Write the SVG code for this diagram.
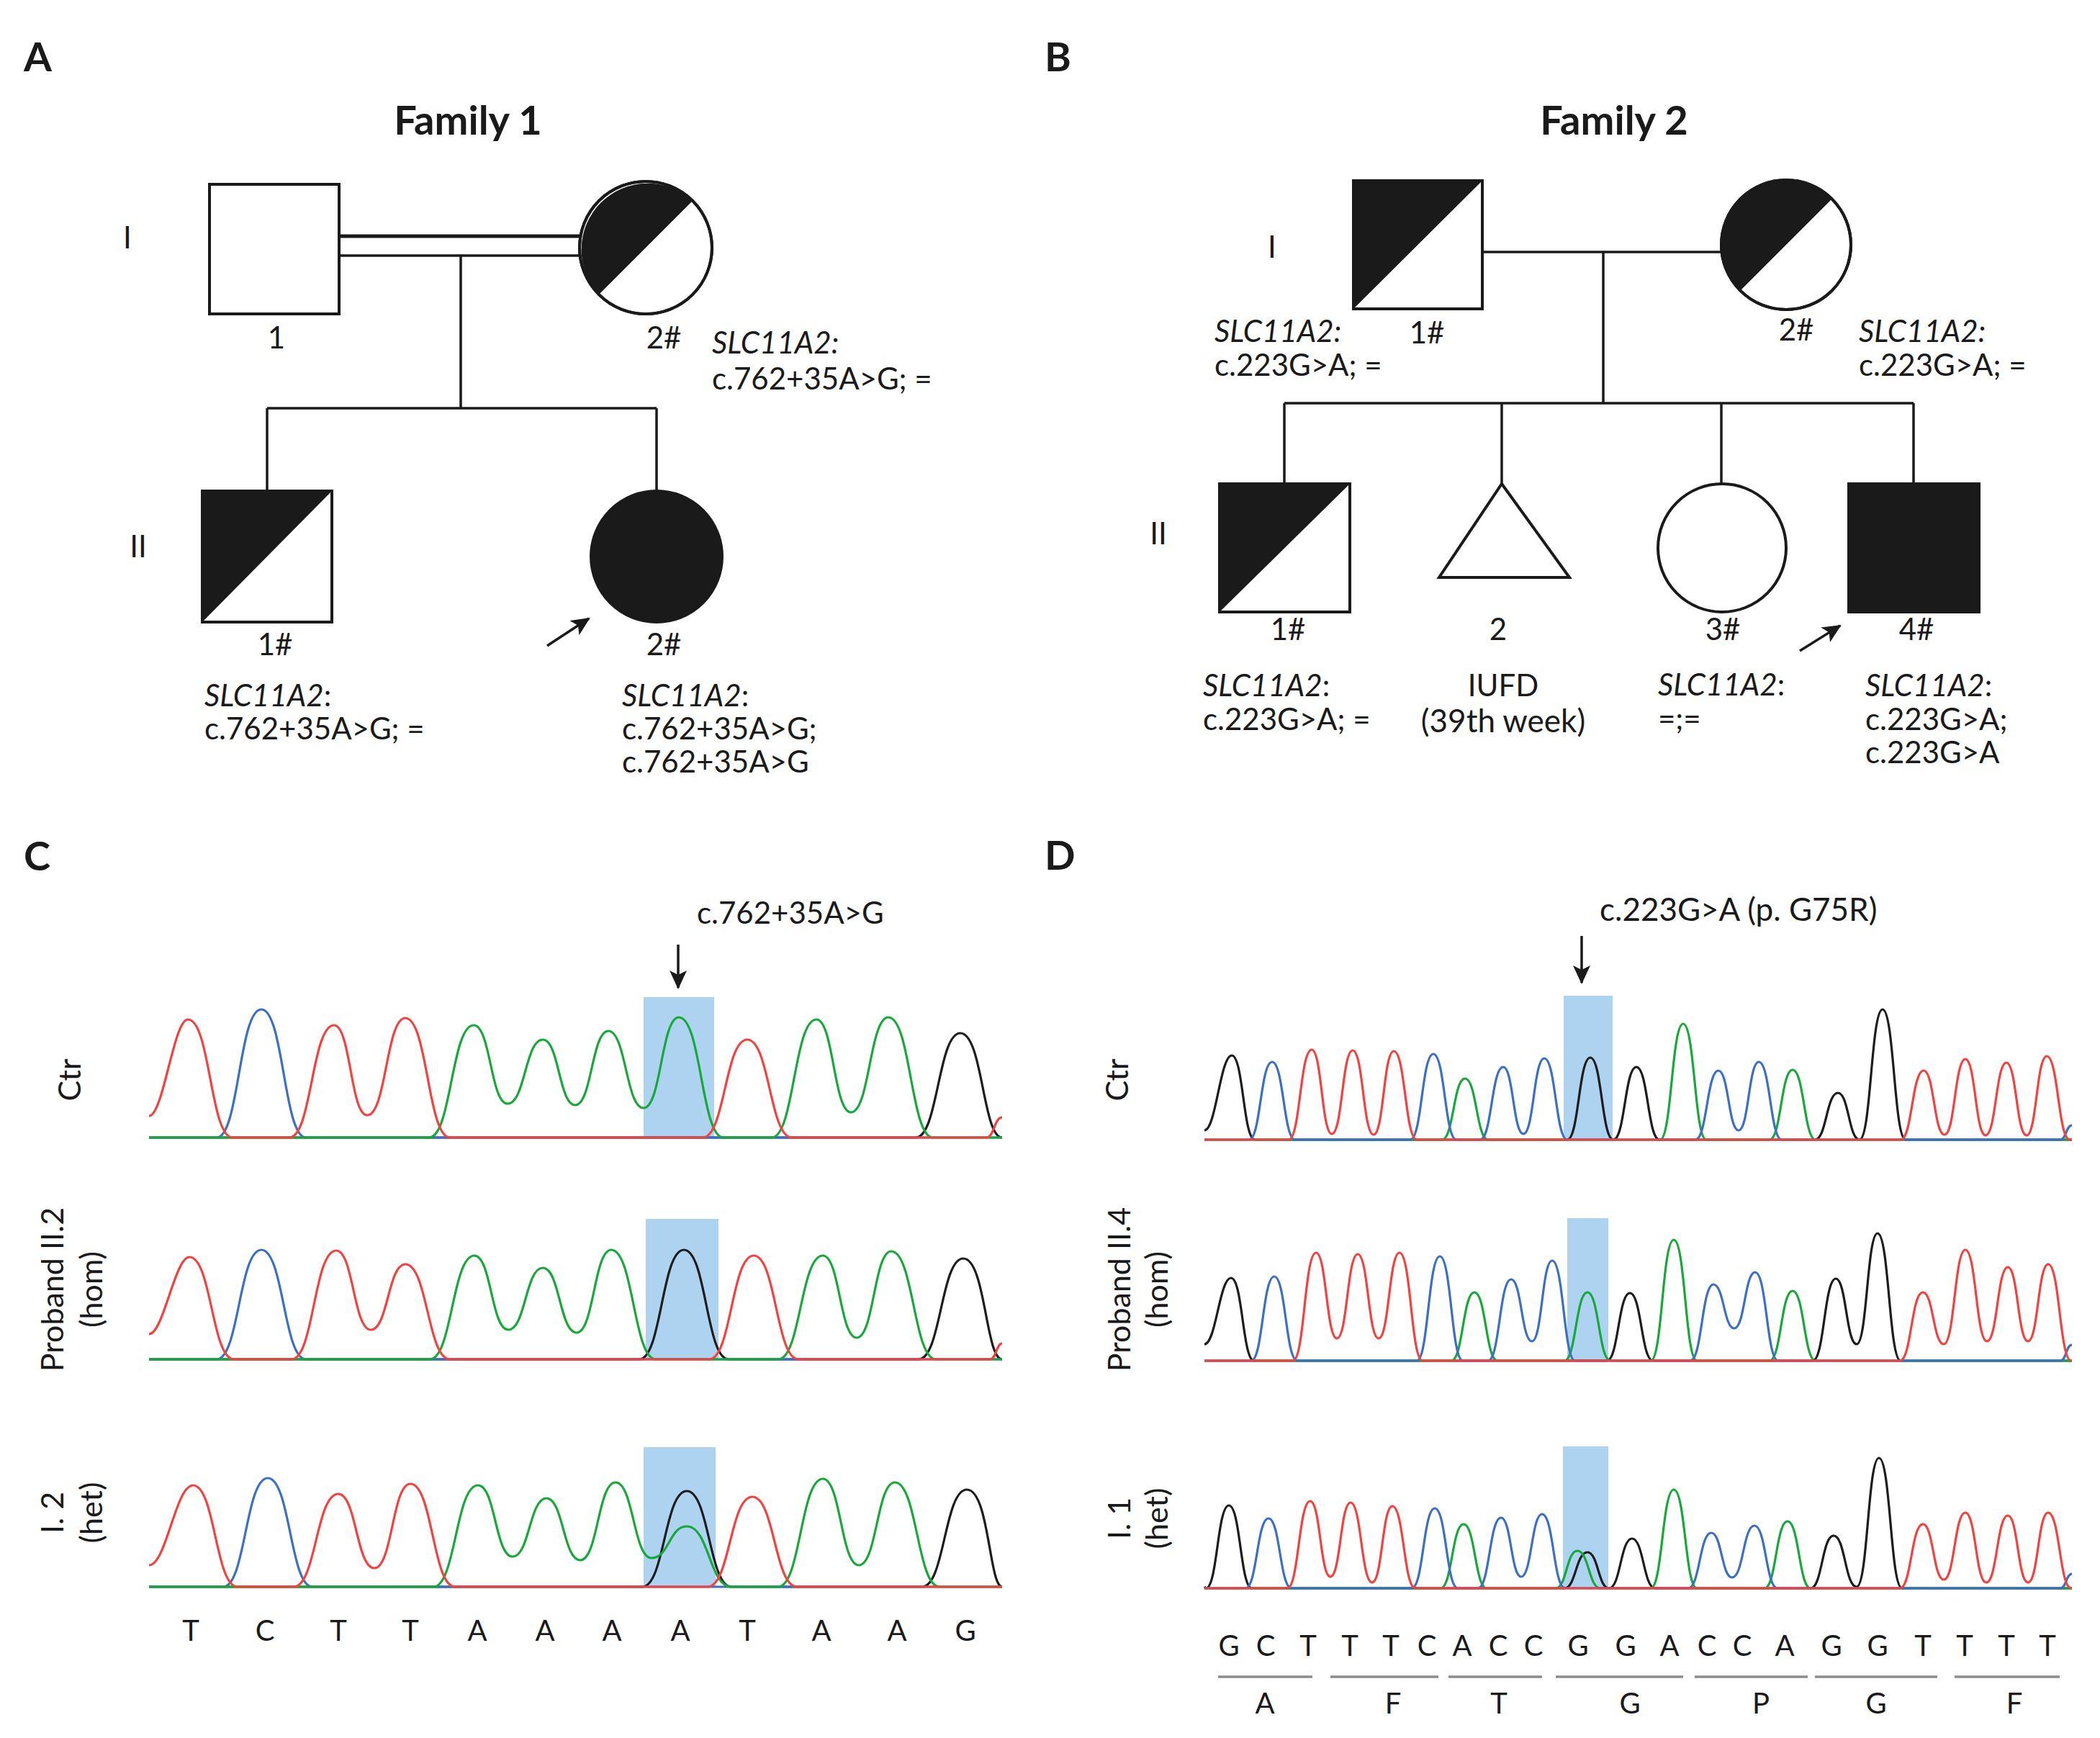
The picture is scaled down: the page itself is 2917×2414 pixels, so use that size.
<svg xmlns="http://www.w3.org/2000/svg" width="2917" height="2414" viewBox="0 0 2917 2414">
<style>
text{font-family:Lato,"Open Sans","Liberation Sans",sans-serif;fill:#1a1a1a;font-size:42px}
.panel{font-size:56px;font-weight:bold}
.title{font-size:56px;font-weight:bold;text-anchor:middle}
.mid{text-anchor:middle}
.it{font-style:italic}
.shape{fill:#fff;stroke:#1a1a1a;stroke-width:4}
.fill{fill:#1a1a1a;stroke:none}
.solid{fill:#1a1a1a;stroke:#1a1a1a;stroke-width:4}
.ln{stroke:#1a1a1a;stroke-width:3.5;fill:none}
.arr{stroke:#1a1a1a;stroke-width:3.5;fill:none;marker-end:url(#ah)}
.hl{fill:#add3f1}
.tr{fill:none;stroke-width:3.2;stroke-linejoin:round}
.k{stroke:#1c1c1c}.b{stroke:#3b6fc6}.g{stroke:#17a83a}.r{stroke:#f2413f}
.aa{stroke:#8c8c8c;stroke-width:3.5}
.lab{font-size:40px}
.rot{font-size:43px;text-anchor:middle}
</style>
<defs>
<marker id="ah" markerUnits="userSpaceOnUse" markerWidth="26" markerHeight="24" viewBox="0 0 26 24" refX="24" refY="12" orient="auto">
<path d="M0,0 L26,12 L0,24 L6,12 Z" fill="#1a1a1a"/>
</marker>
</defs>
<rect width="2917" height="2414" fill="#ffffff"/>

<!-- Panel labels -->
<text class="panel" x="33" y="99">A</text>
<text class="panel" x="1451" y="99">B</text>
<text class="panel" x="33" y="1209">C</text>
<text class="panel" x="1451" y="1208">D</text>
<text class="title" x="650" y="187">Family 1</text>
<text class="title" x="2242" y="187">Family 2</text>

<!-- Connectors -->
<g id="connectors">
<line class="ln" x1="471" y1="328" x2="806" y2="328" style="stroke-width:5"/>
<line class="ln" x1="471" y1="355" x2="806" y2="355"/>
<line class="ln" x1="640" y1="355" x2="640" y2="567"/>
<line class="ln" x1="371" y1="567" x2="912" y2="567"/>
<line class="ln" x1="371" y1="567" x2="371" y2="682"/>
<line class="ln" x1="912" y1="567" x2="912" y2="682"/>
<line class="arr" x1="760" y1="897" x2="818" y2="859"/>

<line class="ln" x1="2059" y1="350" x2="2391" y2="350"/>
<line class="ln" x1="2227" y1="350" x2="2227" y2="560"/>
<line class="ln" x1="1784" y1="560" x2="2658" y2="560"/>
<line class="ln" x1="1784" y1="560" x2="1784" y2="672"/>
<line class="ln" x1="2086" y1="560" x2="2086" y2="672"/>
<line class="ln" x1="2391" y1="560" x2="2391" y2="672"/>
<line class="ln" x1="2658" y1="560" x2="2658" y2="672"/>
<line class="arr" x1="2500" y1="904" x2="2556" y2="869"/>

<line class="arr" x1="942" y1="1312" x2="942" y2="1372"/>
<line class="arr" x1="2197" y1="1300" x2="2197" y2="1365"/>
</g>

<!-- Family 1 -->
<text x="177" y="345" class="mid">I</text>
<text x="192" y="774" class="mid">II</text>
<g id="f1-I1">
<rect class="shape" x="291" y="256" width="180" height="180"/>
<text x="384" y="484" class="mid">1</text>
</g>
<g id="f1-I2">
<circle class="shape" cx="897" cy="344" r="92"/>
<path class="fill" d="M832,409 A92,92 0 0 1 962,279 Z"/>
<circle cx="897" cy="344" r="92" fill="none" stroke="#1a1a1a" stroke-width="4"/>
<text x="922" y="484" class="mid">2#</text>
<text x="989" y="491" class="it">SLC11A2:</text>
<text x="989" y="541">c.762+35A&gt;G; =</text>
</g>
<g id="f1-II1">
<rect class="shape" x="281" y="682" width="180" height="182"/>
<path class="fill" d="M281,682 L461,682 L281,864 Z"/>
<text x="382" y="910" class="mid">1#</text>
<text x="284" y="981"><tspan class="it">SLC11A2</tspan>:</text>
<text x="284" y="1027">c.762+35A&gt;G; =</text>
</g>
<g id="f1-II2">
<circle class="solid" cx="912" cy="773" r="91"/>
<text x="922" y="910" class="mid">2#</text>
<text x="864" y="981"><tspan class="it">SLC11A2</tspan>:</text>
<text x="864" y="1027">c.762+35A&gt;G;</text>
<text x="864" y="1073">c.762+35A&gt;G</text>
</g>

<!-- Family 2 -->
<text x="1767" y="358" class="mid">I</text>
<text x="1609" y="756" class="mid">II</text>
<g id="f2-I1">
<rect class="shape" x="1880" y="251" width="179" height="178"/>
<path class="fill" d="M1880,251 L2059,251 L1880,429 Z"/>
<text x="1982" y="477" class="mid">1#</text>
<text x="1687" y="475" class="it">SLC11A2:</text>
<text x="1687" y="522">c.223G&gt;A; =</text>
</g>
<g id="f2-I2">
<circle class="shape" cx="2481" cy="340" r="90"/>
<path class="fill" d="M2417,404 A90,90 0 0 1 2545,276 Z"/>
<circle cx="2481" cy="340" r="90" fill="none" stroke="#1a1a1a" stroke-width="4"/>
<text x="2495" y="473" class="mid">2#</text>
<text x="2582" y="475" class="it">SLC11A2:</text>
<text x="2582" y="522">c.223G&gt;A; =</text>
</g>
<g id="f2-II1">
<rect class="shape" x="1694" y="672" width="181" height="178"/>
<path class="fill" d="M1694,672 L1875,672 L1694,850 Z"/>
<text x="1789" y="889" class="mid">1#</text>
<text x="1671" y="967"><tspan class="it">SLC11A2</tspan>:</text>
<text x="1671" y="1014">c.223G&gt;A; =</text>
</g>
<g id="f2-II2">
<path class="shape" d="M2086,672 L2180,802 L1999,802 Z"/>
<text x="2081" y="889" class="mid">2</text>
<text x="2088" y="967" class="mid">IUFD</text>
<text x="2088" y="1017" class="mid" style="font-size:44px">(39th week)</text>
</g>
<g id="f2-II3">
<circle class="shape" cx="2392" cy="761" r="89"/>
<text x="2393" y="889" class="mid">3#</text>
<text x="2303" y="966"><tspan class="it">SLC11A2</tspan>:</text>
<text x="2303" y="1013">=;=</text>
</g>
<g id="f2-II4">
<rect class="solid" x="2568" y="672" width="181" height="178"/>
<text x="2662" y="889" class="mid">4#</text>
<text x="2591" y="967"><tspan class="it">SLC11A2</tspan>:</text>
<text x="2591" y="1014">c.223G&gt;A;</text>
<text x="2591" y="1060">c.223G&gt;A</text>
</g>

<!-- Panel C chromatograms -->
<g id="panel-C">
<text x="968" y="1283">c.762+35A&gt;G</text>
<rect class="hl" x="894" y="1385" width="98" height="195"/>
<rect class="hl" x="897" y="1693" width="101" height="195"/>
<rect class="hl" x="894" y="2010" width="100" height="194"/>

<text class="rot" transform="translate(112,1500) rotate(-90)">Ctr</text>
<text class="rot" transform="translate(88,1791) rotate(-90)">Proband II.2</text>
<text class="rot" transform="translate(142,1791) rotate(-90)">(hom)</text>
<text class="rot" transform="translate(88,2101) rotate(-90)">I. 2</text>
<text class="rot" transform="translate(142,2101) rotate(-90)">(het)</text>

<!-- Ctr -->
<path class="tr k" d="M207,1580 L1272,1580 c31,0 31,-145 62,-145 c31,0 31,145 58,145"/>
<path class="tr b" d="M207,1580 L301,1580 c31,0 31,-178 62,-178 c31,0 31,178 62,178 L1392,1580"/>
<path class="tr g" d="M207,1580 L596,1580 c31,0 31,-156 62,-156 c23.5,0 23.5,109 47,109 c24.5,0 24.5,-89 49,-89 c22.5,0 22.5,91 45,91 c23,0 23,-103 46,-103 c24.5,0 24.5,107 49,107 c24.5,0 24.5,-126 49,-126 c31,0 31,167 62,167 L1072,1580 c31,0 31,-164 62,-164 c24,0 24,129 48,129 c26,0 26,-132 52,-132 c31,0 31,167 62,167 L1392,1580"/>
<path class="tr r" d="M207,1550 c20,0 34,-134 54,-134 c31,0 31,164 62,164 L402,1580 c31,0 31,-156 62,-156 c23,0 23,125 46,125 c26.5,0 26.5,-135 53,-135 c31,0 31,166 62,166 L976,1580 c31,0 31,-136 62,-136 c31,0 31,136 62,136 L1370,1580 c11,0 11,-28 22,-28"/>

<!-- hom -->
<path class="tr k" d="M207,1888 L888,1888 c31,0 31,-152 62,-152 c31,0 31,152 62,152 L1276,1888 c31,0 31,-140 62,-140 c31,0 31,140 54,140"/>
<path class="tr b" d="M207,1888 L301,1888 c31,0 31,-152 62,-152 c31,0 31,152 62,152 L1392,1888"/>
<path class="tr g" d="M207,1888 L597,1888 c31,0 31,-144 62,-144 c23.5,0 23.5,103 47,103 c24,0 24,-86 48,-86 c23.5,0 23.5,90 47,90 c24,0 24,-115 48,-115 c31,0 31,152 62,152 L1081,1888 c31,0 31,-144 62,-144 c23.5,0 23.5,114 47,114 c24,0 24,-120 48,-120 c31,0 31,150 62,150 L1392,1888"/>
<path class="tr r" d="M207,1853 c20,0 36,-107 56,-107 c31,0 31,142 62,142 L405,1888 c31,0 31,-151 62,-151 c24,0 24,110 48,110 c24,0 24,-91 48,-91 c31,0 31,132 62,132 L985,1888 c31,0 31,-144 62,-144 c31,0 31,144 62,144 L1375,1888 c9,0 9,-22 17,-22"/>

<!-- het -->
<path class="tr k" d="M207,2204 L892,2204 c31,0 31,-133 62,-133 c31,0 31,133 62,133 L1281,2204 c31,0 31,-135 62,-135 c31,0 31,135 49,135"/>
<path class="tr b" d="M207,2204 L310,2204 c31,0 31,-151 62,-151 c31,0 31,151 62,151 L1392,2204"/>
<path class="tr g" d="M207,2204 L602,2204 c31,0 31,-141 62,-141 c24,0 24,99 48,99 c23.5,0 23.5,-81 47,-81 c23.5,0 23.5,86 47,86 c24.5,0 24.5,-108 49,-108 c25,0 25,105 50,105 c24.5,0 24.5,-44 49,-44 c31,0 31,84 62,84 L1081,2204 c31,0 31,-150 62,-150 c25,0 25,120 50,120 c25,0 25,-115 50,-115 c31,0 31,145 62,145 L1392,2204"/>
<path class="tr r" d="M207,2174 c24,0 37,-111 61,-111 c31,0 31,141 62,141 L408,2204 c31,0 31,-129 62,-129 c25,0 25,103 50,103 c25,0 25,-117 50,-117 c31,0 31,143 62,143 L983,2204 c31,0 31,-125 62,-125 c31,0 31,125 62,125 L1392,2204"/>

<text x="265" y="2279" class="lab mid">T</text>
<text x="368" y="2279" class="lab mid">C</text>
<text x="470" y="2279" class="lab mid">T</text>
<text x="570" y="2279" class="lab mid">T</text>
<text x="663" y="2279" class="lab mid">A</text>
<text x="757" y="2279" class="lab mid">A</text>
<text x="850" y="2279" class="lab mid">A</text>
<text x="945" y="2279" class="lab mid">A</text>
<text x="1038" y="2279" class="lab mid">T</text>
<text x="1141" y="2279" class="lab mid">A</text>
<text x="1246" y="2279" class="lab mid">A</text>
<text x="1341" y="2279" class="lab mid">G</text>
</g>

<!-- Panel D chromatograms -->
<g id="panel-D">
<text x="2222" y="1279" style="font-size:44px">c.223G&gt;A (p. G75R)</text>
<rect class="hl" x="2172" y="1383" width="68" height="200"/>
<rect class="hl" x="2177" y="1692" width="57" height="198"/>
<rect class="hl" x="2171" y="2009" width="63" height="197"/>

<text class="rot" transform="translate(1567,1500) rotate(-90)">Ctr</text>
<text class="rot" transform="translate(1570,1791) rotate(-90)">Proband II.4</text>
<text class="rot" transform="translate(1622,1791) rotate(-90)">(hom)</text>
<text class="rot" transform="translate(1570,2109) rotate(-90)">I. 1</text>
<text class="rot" transform="translate(1622,2109) rotate(-90)">(het)</text>

<!-- Ctr -->
<path class="tr k" d="M1673,1570 c16,0 22,-104 38,-104 c16,0 16,117 32,117 L2177,1583 c16,0 16,-114 32,-114 c16,0 16,114 32,114 c16,0 16,-101 32,-101 c16,0 16,101 32,101 L2521,1583 c16,0 16,-65 32,-65 c15,0 15,65 30,65 c16,0 16,-181 32,-181 c16,0 16,181 32,181 L2878,1583"/>
<path class="tr g" d="M1673,1583 L2003,1583 c16,0 16,-85 32,-85 c16,0 16,85 32,85 L2306,1583 c16,0 16,-161 32,-161 c16,0 16,161 32,161 L2458,1583 c16,0 16,-97 32,-97 c16,0 16,97 32,97 L2878,1583"/>
<path class="tr b" d="M1673,1583 L1735,1583 c16,0 16,-108 32,-108 c16,0 16,108 32,108 L1959,1583 c16,0 16,-119 32,-119 c16,0 16,119 32,119 L2056,1583 c16,0 16,-101 32,-101 c14,0 14,93 28,93 c14.5,0 14.5,-105 29,-105 c16,0 16,113 32,113 L2355,1583 c16,0 16,-96 32,-96 c14,0 14,83 28,83 c14,0 14,-95 28,-95 c16,0 16,108 32,108 L2862,1583 c8,0 8,-20 16,-20"/>
<path class="tr r" d="M1673,1583 L1790,1583 c16,0 16,-125 32,-125 c14,0 14,117 28,117 c14.5,0 14.5,-116 29,-116 c14.5,0 14.5,117 29,117 c14,0 14,-116 28,-116 c16,0 16,123 32,123 L2640,1583 c16,0 16,-96 32,-96 c14.5,0 14.5,89 29,89 c14.5,0 14.5,-105 29,-105 c14,0 14,106 28,106 c14.5,0 14.5,-101 29,-101 c14,0 14,101 28,101 c14,0 14,-110 28,-110 c16,0 16,116 32,116 L2878,1583"/>

<!-- hom -->
<path class="tr k" d="M1673,1867 c16,0 21,-92 37,-92 c16,0 16,115 32,115 L2232,1890 c16,0 16,-94 32,-94 c16,0 16,94 32,94 L2518,1890 c16,0 16,-114 32,-114 c14.5,0 14.5,91 29,91 c14.5,0 14.5,-154 29,-154 c16,0 16,177 32,177 L2878,1890"/>
<path class="tr g" d="M1673,1890 L2016,1890 c16,0 16,-95 32,-95 c16,0 16,95 32,95 L2173,1890 c16,0 16,-95 32,-95 c16,0 16,95 32,95 L2293,1890 c16,0 16,-168 32,-168 c16,0 16,168 32,168 L2458,1890 c16,0 16,-97 32,-97 c16,0 16,97 32,97 L2878,1890"/>
<path class="tr b" d="M1673,1890 L1738,1890 c16,0 16,-117 32,-117 c16,0 16,117 32,117 L1968,1890 c16,0 16,-145 32,-145 c16,0 16,145 32,145 L2067,1890 c16,0 16,-113 32,-113 c14.5,0 14.5,86 29,86 c14,0 14,-112 28,-112 c16,0 16,139 32,139 L2348,1890 c16,0 16,-106 32,-106 c14.5,0 14.5,61 29,61 c14.5,0 14.5,-78 29,-78 c16,0 16,123 32,123 L2862,1890 c8,0 8,-22 16,-22"/>
<path class="tr r" d="M1673,1890 L1796,1890 c16,0 16,-150 32,-150 c14.5,0 14.5,119 29,119 c14.5,0 14.5,-117 29,-117 c14.5,0 14.5,117 29,117 c14.5,0 14.5,-119 29,-119 c16,0 16,150 32,150 L2639,1890 c16,0 16,-95 32,-95 c14.5,0 14.5,72 29,72 c15,0 15,-131 30,-131 c15,0 15,127 30,127 c14.5,0 14.5,-103 29,-103 c14,0 14,103 28,103 c14,0 14,-107 28,-107 c16,0 16,134 32,134"/>

<!-- het -->
<path class="tr k" d="M1673,2204 L1675,2206 c16,0 16,-115 32,-115 c16,0 16,115 32,115 L2173,2206 c16,0 16,-50 32,-50 c15,0 15,50 30,50 c16,0 16,-69 32,-69 c16,0 16,69 32,69 L2515,2206 c16,0 16,-73 32,-73 c16,0 16,71 32,71 c15.5,0 15.5,-179 31,-179 c16,0 16,181 32,181 L2878,2206"/>
<path class="tr g" d="M1673,2206 L2001,2206 c16,0 16,-89 32,-89 c16,0 16,89 32,89 L2161,2206 c15,0 15,-52 30,-52 c16,0 16,52 32,52 L2293,2206 c16,0 16,-137 32,-137 c16,0 16,137 32,137 L2451,2206 c16,0 16,-93 32,-93 c16,0 16,93 32,93 L2878,2206"/>
<path class="tr b" d="M1673,2206 L1730,2206 c16,0 16,-97 32,-97 c16,0 16,97 32,97 L1961,2206 c16,0 16,-111 32,-111 c16,0 16,111 32,111 L2053,2206 c16,0 16,-98 32,-98 c14,0 14,82 28,82 c14.5,0 14.5,-87 29,-87 c16,0 16,103 32,103 L2345,2206 c16,0 16,-77 32,-77 c14.5,0 14.5,62 29,62 c15.5,0 15.5,-72 31,-72 c16,0 16,87 32,87 L2862,2206 c8,0 8,-20 16,-20"/>
<path class="tr r" d="M1673,2206 L1788,2206 c16,0 16,-121 32,-121 c14,0 14,105 28,105 c14,0 14,-103 28,-103 c15,0 15,111 30,111 c14,0 14,-106 28,-106 c16,0 16,114 32,114 L2639,2206 c16,0 16,-89 32,-89 c14.5,0 14.5,77 29,77 c15,0 15,-93 30,-93 c14.5,0 14.5,97 29,97 c15,0 15,-93 30,-93 c14,0 14,93 28,93 c14,0 14,-97 28,-97 c16,0 16,105 32,105"/>

<text x="1707" y="2300" class="lab mid">G</text>
<text x="1758" y="2300" class="lab mid">C</text>
<text x="1817" y="2300" class="lab mid">T</text>
<text x="1875" y="2300" class="lab mid">T</text>
<text x="1932" y="2300" class="lab mid">T</text>
<text x="1982" y="2300" class="lab mid">C</text>
<text x="2031" y="2300" class="lab mid">A</text>
<text x="2081" y="2300" class="lab mid">C</text>
<text x="2130" y="2300" class="lab mid">C</text>
<text x="2192" y="2300" class="lab mid">G</text>
<text x="2258" y="2300" class="lab mid">G</text>
<text x="2319" y="2300" class="lab mid">A</text>
<text x="2371" y="2300" class="lab mid">C</text>
<text x="2420" y="2300" class="lab mid">C</text>
<text x="2479" y="2300" class="lab mid">A</text>
<text x="2544" y="2300" class="lab mid">G</text>
<text x="2608" y="2300" class="lab mid">G</text>
<text x="2671" y="2300" class="lab mid">T</text>
<text x="2729" y="2300" class="lab mid">T</text>
<text x="2787" y="2300" class="lab mid">T</text>
<text x="2844" y="2300" class="lab mid">T</text>

<line class="aa" x1="1692" y1="2329" x2="1823" y2="2329"/>
<line class="aa" x1="1848" y1="2329" x2="1998" y2="2329"/>
<line class="aa" x1="2012" y1="2329" x2="2142" y2="2329"/>
<line class="aa" x1="2161" y1="2329" x2="2338" y2="2329"/>
<line class="aa" x1="2354" y1="2329" x2="2511" y2="2329"/>
<line class="aa" x1="2521" y1="2329" x2="2691" y2="2329"/>
<line class="aa" x1="2715" y1="2329" x2="2861" y2="2329"/>

<text x="1757" y="2380" class="lab mid">A</text>
<text x="1935" y="2380" class="lab mid">F</text>
<text x="2082" y="2380" class="lab mid">T</text>
<text x="2264" y="2380" class="lab mid">G</text>
<text x="2446" y="2380" class="lab mid">P</text>
<text x="2606" y="2380" class="lab mid">G</text>
<text x="2798" y="2380" class="lab mid">F</text>
</g>
</svg>
